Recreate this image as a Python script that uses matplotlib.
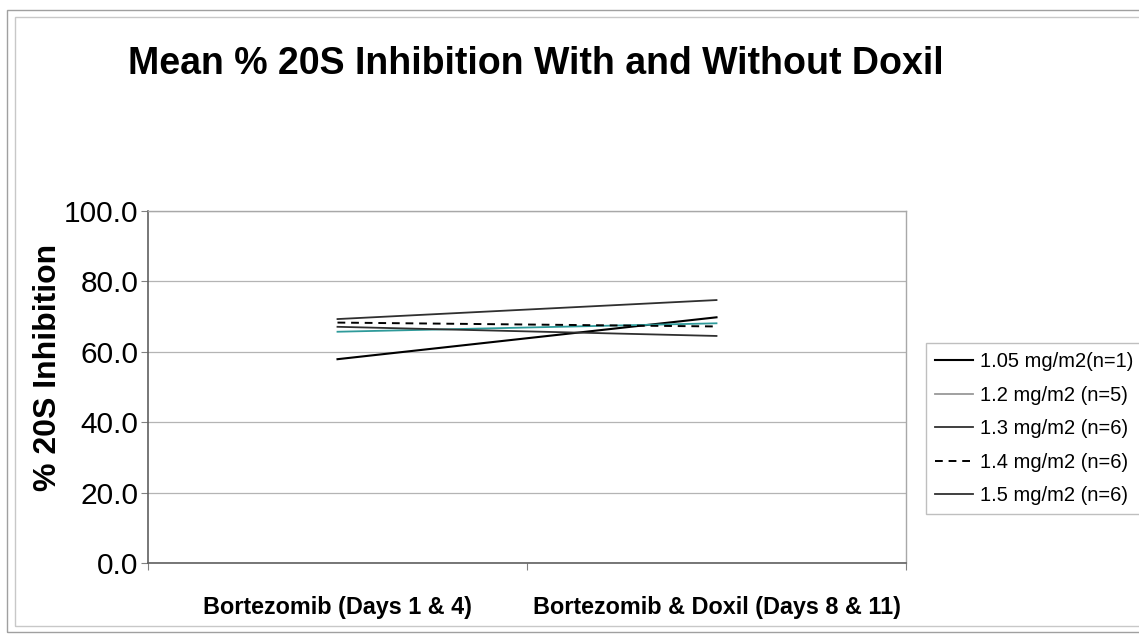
import matplotlib
matplotlib.use("Agg")
import matplotlib.pyplot as plt
from matplotlib.patches import Rectangle

plt.rcParams['font.family'] = ['Liberation Sans', 'DejaVu Sans']

categories = ["Bortezomib (Days 1 & 4)", "Bortezomib & Doxil (Days 8 & 11)"]
series_names = ["1.05 mg/m2(n=1)", "1.2 mg/m2 (n=5)", "1.3 mg/m2 (n=6)",
                "1.4 mg/m2 (n=6)", "1.5 mg/m2 (n=6)"]
v105 = [57.9, 69.8]
v12 = [65.7, 68.1]
v13 = [69.3, 74.7]
v14 = [68.3, 67.2]
v15 = [67.1, 64.5]
yticks = [0, 20, 40, 60, 80, 100]

W, H = 1139, 635
fig = plt.figure(figsize=(W / 100, H / 100), dpi=100)
fig.patch.set_facecolor('white')

# outer frames
fig.patches.append(Rectangle((7 / W, 1 - 632 / H), 1.2, (632 - 10) / H, transform=fig.transFigure,
                             fill=False, edgecolor='#a0a0a0', lw=1.0))
fig.patches.append(Rectangle((15 / W, 1 - 626 / H), 1.2, (626 - 17) / H, transform=fig.transFigure,
                             fill=False, edgecolor='#c8c8c8', lw=1.0))

ax = fig.add_axes([148 / W, 1 - 563 / H, 758 / W, 352 / H])
x = [0.5, 1.5]
styles = [
    (v105, dict(color='#000000', lw=1.5, ls='-')),
    (v12, dict(color='#2e9a9a', lw=1.3, ls='-')),
    (v13, dict(color='#303030', lw=1.3, ls='-')),
    (v14, dict(color='#000000', lw=1.4, ls=(0, (4, 3)))),
    (v15, dict(color='#303030', lw=1.3, ls='-')),
]
for (vals, st), name in zip(styles, series_names):
    ax.plot(x, vals, label=name, **st)

ax.set_xlim(0, 2)
ax.set_ylim(0, 100)
ax.set_yticks(yticks)
ax.set_yticklabels([f"{v:.1f}" for v in yticks], fontsize=21.5)
ax.yaxis.grid(True, color='#b4b4b4', lw=0.9)
ax.set_axisbelow(True)

ax.set_xticks([0, 1, 2])
ax.set_xticklabels([])
ax.set_xticks(x, minor=True)
ax.set_xticklabels(categories, minor=True, fontsize=16.8, fontweight='bold')
ax.tick_params(axis='x', which='minor', length=0, pad=24)
ax.tick_params(axis='x', which='major', length=5, direction='out', color='#808080')
ax.tick_params(axis='y', length=5, direction='out', color='#808080', pad=2)

for s in ['left', 'bottom']:
    ax.spines[s].set_color('#606060')
    ax.spines[s].set_linewidth(1.2)
for s in ['top', 'right']:
    ax.spines[s].set_color('#a8a8a8')
    ax.spines[s].set_linewidth(1.0)

ax.set_ylabel("% 20S Inhibition", fontsize=23, fontweight='bold')
ax.yaxis.set_label_coords((48 - 148) / 758, (563 - 367) / 352)
ax.yaxis.label.set_va('center')

fig.text(536 / W, 1 - 64 / H, "Mean % 20S Inhibition With and Without Doxil",
         ha='center', va='center', fontsize=27, fontweight='bold')

leg = ax.legend(loc='upper left', bbox_to_anchor=(926 / W, 1 - 343 / H),
                bbox_transform=fig.transFigure, fontsize=14.5, frameon=True,
                fancybox=False, edgecolor='#b0b0b0', handlelength=1.9,
                handletextpad=0.35, labelspacing=0.72, borderpad=0.45,
                borderaxespad=0)
leg.get_frame().set_linewidth(1.0)
leg.get_lines()[1].set_color('#999999')

fig.savefig("out.png", dpi=100, facecolor='white')
